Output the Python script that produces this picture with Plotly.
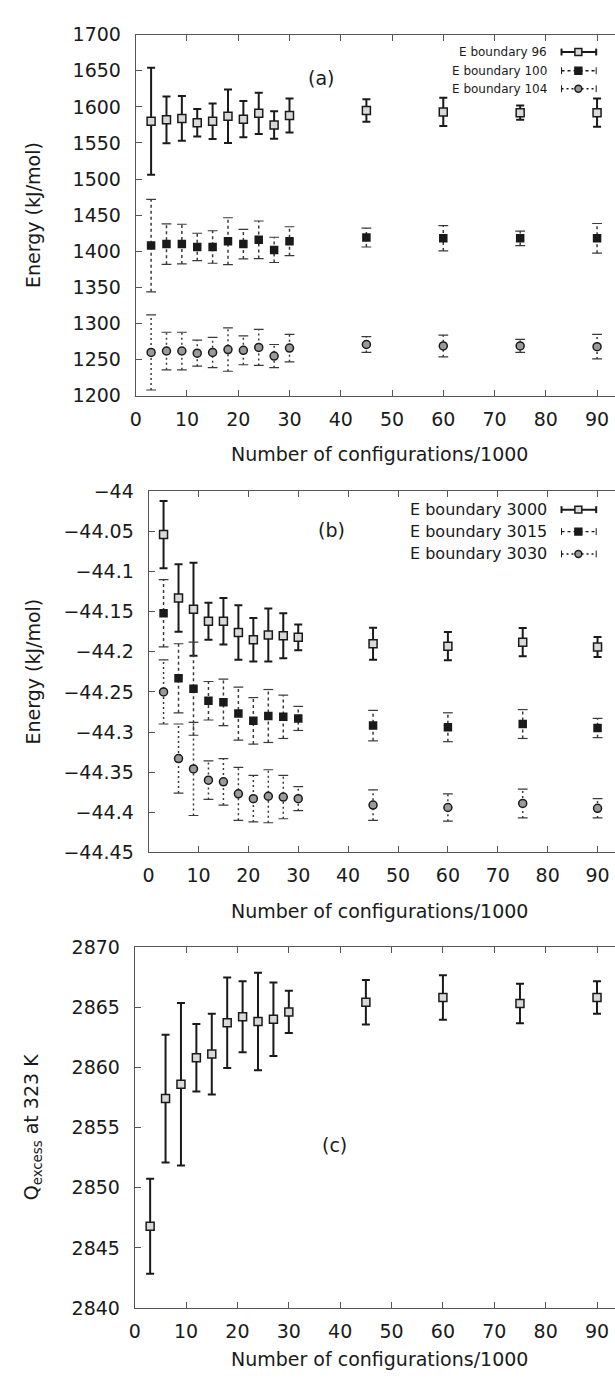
import plotly.graph_objects as go

W, H = 615, 1387
FONT = "DejaVu Sans"
INK = "#1a1a1a"
AXC = "#555555"

# ---------------- data ----------------
n_conf = [3, 6, 9, 12, 15, 18, 21, 24, 27, 30, 45, 60, 75, 90]
x_ticks = [0, 10, 20, 30, 40, 50, 60, 70, 80, 90]

# panel (a)
a_names = ["E boundary 96", "E boundary 100", "E boundary 104"]
e96 = [1580, 1582, 1584, 1578, 1580, 1587, 1583, 1591, 1575, 1588, 1595, 1593, 1592, 1592]
e96_err = [74, 32.5, 31, 19, 24.5, 37, 25, 28.5, 19, 23.5, 15.5, 19.5, 10, 19.5]
e100 = [1408, 1410, 1410, 1406, 1406, 1414, 1410, 1416, 1402, 1414, 1419, 1418, 1418, 1418]
e100_err = [64, 28, 27.5, 19, 22.5, 32.5, 20.5, 26, 17.5, 20, 13, 17.5, 10, 20.5]
e104 = [1260, 1262, 1262, 1259, 1260, 1264, 1263, 1267, 1255, 1266, 1271, 1269, 1269, 1268]
e104_err = [52, 26, 26, 18, 21, 30, 20, 25, 16, 19, 11, 15, 9, 17]
a_yticks = [1200, 1250, 1300, 1350, 1400, 1450, 1500, 1550, 1600, 1650, 1700]

# panel (b)
b_names = ["E boundary 3000", "E boundary 3015", "E boundary 3030"]
e3000 = [-44.054, -44.133, -44.147, -44.162, -44.162, -44.176, -44.185, -44.179, -44.180,
         -44.182, -44.190, -44.193, -44.188, -44.194]
e3000_err = [0.042, 0.042, 0.058, 0.023, 0.029, 0.034, 0.027, 0.033, 0.028, 0.016, 0.020,
             0.0175, 0.0175, 0.0125]
e3015 = [-44.152, -44.233, -44.246, -44.261, -44.263, -44.277, -44.286, -44.280, -44.281,
         -44.283, -44.292, -44.294, -44.290, -44.295]
e3015_err = [0.042, 0.043, 0.058, 0.024, 0.029, 0.033, 0.029, 0.033, 0.027, 0.015, 0.019,
             0.018, 0.018, 0.012]
e3030 = [-44.250, -44.333, -44.346, -44.360, -44.362, -44.377, -44.383, -44.380, -44.381,
         -44.383, -44.391, -44.394, -44.389, -44.395]
e3030_err = [0.040, 0.043, 0.058, 0.024, 0.029, 0.033, 0.029, 0.033, 0.027, 0.015, 0.019,
             0.017, 0.018, 0.012]
b_yticks = [-44.45, -44.4, -44.35, -44.3, -44.25, -44.2, -44.15, -44.1, -44.05, -44]
b_yticktext = ["\u221244.45", "\u221244.4", "\u221244.35", "\u221244.3", "\u221244.25",
               "\u221244.2", "\u221244.15", "\u221244.1", "\u221244.05", "\u221244"]

# panel (c)
q_excess = [2846.8, 2857.4, 2858.6, 2860.8, 2861.1, 2863.7, 2864.2, 2863.8, 2864.0, 2864.6,
            2865.4, 2865.8, 2865.3, 2865.8]
q_err = [3.95, 5.3, 6.75, 2.8, 3.35, 3.75, 2.95, 4.05, 3.05, 1.75, 1.85, 1.85, 1.65, 1.35]
c_yticks = [2840, 2845, 2850, 2855, 2860, 2865, 2870]

# ---------------- layout geometry (pixels) ----------------
panels = {
    "a": dict(left=131, top=24, bottom=391),
    "b": dict(left=144, top=488, bottom=855),
    "c": dict(left=130, top=951, bottom=1318),
}
XMAX = 93.5
DOT_C = "#3a3a3a"


def px(x):
    return x / W


def py(y):
    return 1 - y / H


fig = go.Figure()


def solid_series(xa, ya, y, err, symbol, fill, size):
    fig.add_trace(go.Scatter(
        x=n_conf, y=y, mode="markers", xaxis=xa, yaxis=ya, showlegend=False,
        marker=dict(symbol=symbol, size=size, color=fill, line=dict(color=INK, width=1.5)),
        error_y=dict(type="data", array=err, visible=True, color=INK, thickness=2, width=4),
    ))


def dotted_series(xa, ya, y, err, symbol, fill, size, dash):
    xs, ys, cx, cy = [], [], [], []
    for xv, yv, ev in zip(n_conf, y, err):
        xs += [xv, xv, None]
        ys += [yv - ev, yv + ev, None]
        cx += [xv, xv]
        cy += [yv - ev, yv + ev]
    fig.add_trace(go.Scatter(x=xs, y=ys, mode="lines", xaxis=xa, yaxis=ya, showlegend=False,
                             line=dict(color=DOT_C, width=1.5, dash=dash)))
    fig.add_trace(go.Scatter(x=cx, y=cy, mode="markers", xaxis=xa, yaxis=ya, showlegend=False,
                             marker=dict(symbol="line-ew-open", size=7, color=DOT_C,
                                         line=dict(color=DOT_C, width=1.2))))
    fig.add_trace(go.Scatter(x=n_conf, y=y, mode="markers", xaxis=xa, yaxis=ya, showlegend=False,
                             marker=dict(symbol=symbol, size=size, color=fill,
                                         line=dict(color=INK, width=1.5))))


# panel a
solid_series("x", "y", e96, e96_err, "square", "#d9d9d9", 8)
dotted_series("x", "y", e100, e100_err, "square", INK, 7, "dot")
dotted_series("x", "y", e104, e104_err, "circle", "#9a9a9a", 8, "2px,3px")
# panel b
solid_series("x2", "y2", e3000, e3000_err, "square", "#d9d9d9", 8)
dotted_series("x2", "y2", e3015, e3015_err, "square", INK, 7, "dot")
dotted_series("x2", "y2", e3030, e3030_err, "circle", "#9a9a9a", 8, "2px,3px")
# panel c
solid_series("x3", "y3", q_excess, q_err, "square", "#d9d9d9", 8)

axis_common = dict(showgrid=False, zeroline=False, showline=True, linecolor=AXC, linewidth=1,
                   ticks="inside", ticklen=6, tickcolor=AXC, tickwidth=1,
                   tickfont=dict(family=FONT, size=19, color=INK))

layout = dict(width=W, height=H, margin=dict(l=0, r=0, t=0, b=0),
              paper_bgcolor="white", plot_bgcolor="white", showlegend=False)

ydefs = {
    "a": dict(range=[1200, 1700], tickvals=a_yticks),
    "b": dict(range=[-44.45, -44.0], tickvals=b_yticks, ticktext=b_yticktext),
    "c": dict(range=[2840, 2870], tickvals=c_yticks),
}
for i, key in enumerate(["a", "b", "c"]):
    p = panels[key]
    sfx = "" if i == 0 else str(i + 1)
    layout["xaxis" + sfx] = dict(axis_common, domain=[px(p["left"]), 1], range=[0, XMAX],
                                 tickvals=x_ticks, mirror="ticks", ticklabelstandoff=6,
                                 anchor="y" + sfx)
    layout["yaxis" + sfx] = dict(axis_common, domain=[py(p["bottom"]), py(p["top"])],
                                 ticklabelstandoff=10, anchor="x" + sfx, **ydefs[key])

fig.update_layout(**layout)

annots = []
shapes = []
title_font = dict(family=FONT, size=19, color=INK)

# x axis titles
for key, yc in [("a", 450), ("b", 914), ("c", 1370)]:
    annots.append(dict(text="Number of configurations/1000", x=px(377), y=py(yc),
                       xref="paper", yref="paper", showarrow=False, font=title_font,
                       xanchor="center", yanchor="middle"))
# y axis titles
for key, xc, txt in [("a", 27, "Energy (kJ/mol)"), ("b", 27, "Energy (kJ/mol)"),
                     ("c", 27, "Q<sub>excess</sub> at 323 K")]:
    p = panels[key]
    annots.append(dict(text=txt, x=px(xc), y=py((p["top"] + p["bottom"]) / 2),
                       xref="paper", yref="paper", showarrow=False, font=title_font,
                       textangle=-90, xanchor="center", yanchor="middle"))
# panel labels
for txt, xc, yc in [("(a)", 318, 68), ("(b)", 329, 527), ("(c)", 332, 1152)]:
    annots.append(dict(text=txt, x=px(xc), y=py(yc), xref="paper", yref="paper",
                       showarrow=False, font=title_font, xanchor="center", yanchor="middle"))


# legend (text left, sample right, as in gnuplot)
def legend(names, rows, fsize):
    styles = [("solid", "square", "#d9d9d9", 2),
              ("dot", "square", INK, 1.3),
              ("2px,3px", "circle", "#9a9a9a", 1.5)]
    for name, yr, (dash, sym, fill, lw) in zip(names, rows, styles):
        annots.append(dict(text=name, x=px(548), y=py(yr), xref="paper", yref="paper",
                           showarrow=False, xanchor="right", yanchor="middle",
                           font=dict(family=FONT, size=fsize, color=INK)))
        shapes.append(dict(type="line", xref="paper", yref="paper", x0=px(561), x1=px(596),
                           y0=py(yr), y1=py(yr), line=dict(color=INK, width=lw, dash=dash)))
        for xe in (561, 596):
            shapes.append(dict(type="line", xref="paper", yref="paper", x0=px(xe), x1=px(xe),
                               y0=py(yr - 3.5), y1=py(yr + 3.5),
                               line=dict(color=INK, width=lw if dash == "solid" else 1)))
        stype = "rect" if sym == "square" else "circle"
        shapes.append(dict(type=stype, xref="paper", yref="paper", x0=px(574.5), x1=px(581.5),
                           y0=py(yr + 3.5), y1=py(yr - 3.5), fillcolor=fill,
                           line=dict(color=INK, width=1.5)))


legend(a_names, [41.7, 60.7, 79], 12)
legend(b_names, [506.7, 529, 551.7], 16)

fig.update_layout(annotations=annots, shapes=shapes)
fig.write_html("out.html", config={"displayModeBar": False},
               post_script="document.body.style.margin='0px';"
                           "document.body.style.overflow='hidden';")
